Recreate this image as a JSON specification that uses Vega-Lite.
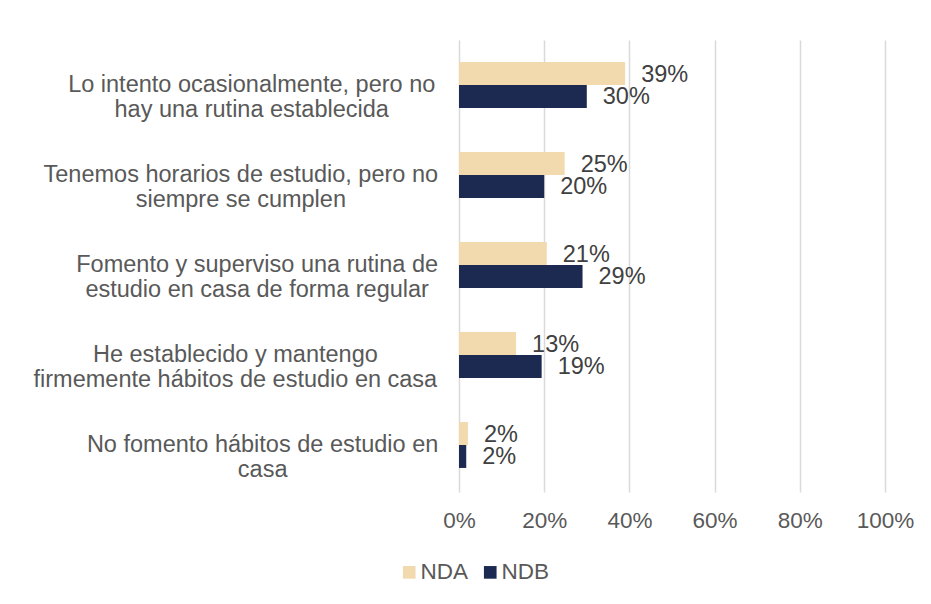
{
  "$schema": "https://vega.github.io/schema/vega-lite/v6.json",
  "autosize": {"type": "none"},
  "width": 426,
  "height": 450,
  "padding": {"left": 459, "top": 40, "right": 46, "bottom": 114},
  "background": "white",
  "config": {
    "view": {"stroke": null},
    "font": "Liberation Sans",
    "text": {"font": "Liberation Sans"}
  },
  "data": {
    "values": [
      {"cat": "Lo intento ocasionalmente, pero no|hay una rutina establecida", "serie": "NDA", "value": 0.39},
      {"cat": "Lo intento ocasionalmente, pero no|hay una rutina establecida", "serie": "NDB", "value": 0.30},
      {"cat": "Tenemos horarios de estudio, pero no|siempre se cumplen", "serie": "NDA", "value": 0.248},
      {"cat": "Tenemos horarios de estudio, pero no|siempre se cumplen", "serie": "NDB", "value": 0.20},
      {"cat": "Fomento y superviso una rutina de|estudio en casa de forma regular", "serie": "NDA", "value": 0.206},
      {"cat": "Fomento y superviso una rutina de|estudio en casa de forma regular", "serie": "NDB", "value": 0.29},
      {"cat": "He establecido y mantengo|firmemente hábitos de estudio en casa", "serie": "NDA", "value": 0.134},
      {"cat": "He establecido y mantengo|firmemente hábitos de estudio en casa", "serie": "NDB", "value": 0.194},
      {"cat": "No fomento hábitos de estudio en|casa", "serie": "NDA", "value": 0.021},
      {"cat": "No fomento hábitos de estudio en|casa", "serie": "NDB", "value": 0.017}
    ]
  },
  "encoding": {
    "y": {
      "field": "cat",
      "type": "nominal",
      "sort": null,
      "scale": {"paddingInner": 0.49, "paddingOuter": 0.245},
      "axis": null
    }
  },
  "layer": [
    {
      "mark": {"type": "bar"},
      "encoding": {
        "x": {
          "field": "value",
          "type": "quantitative",
          "scale": {"domain": [0, 1], "nice": false},
          "axis": {
            "title": null,
            "format": ".0%",
            "values": [0, 0.2, 0.4, 0.6, 0.8, 1],
            "domain": false,
            "ticks": true,
            "tickSize": 2,
            "tickColor": "#d9d9d9",
            "tickWidth": 1.5,
            "grid": true,
            "gridColor": "#d9d9d9",
            "gridWidth": 1.5,
            "labelPadding": 17,
            "labelFontSize": 22.5,
            "labelColor": "#595959",
            "labelFlush": false
          }
        },
        "yOffset": {
          "field": "serie",
          "type": "nominal",
          "sort": ["NDA", "NDB"],
          "scale": {"paddingInner": 0, "paddingOuter": 0}
        },
        "color": {
          "field": "serie",
          "type": "nominal",
          "scale": {"domain": ["NDA", "NDB"], "range": ["#F2DAAE", "#1C2951"]},
          "legend": {
            "title": null,
            "orient": "none",
            "direction": "horizontal",
            "legendX": -61,
            "legendY": 521,
            "padding": 0,
            "symbolType": "square",
            "symbolSize": 160,
            "symbolStrokeWidth": 0,
            "labelFontSize": 22.5,
            "labelColor": "#595959",
            "labelOffset": 0,
            "columnPadding": 10
          }
        }
      }
    },
    {
      "mark": {"type": "text", "align": "left", "baseline": "middle", "dx": 16, "dy": 1, "fontSize": 23.5, "color": "#404040"},
      "encoding": {
        "x": {"field": "value", "type": "quantitative"},
        "yOffset": {"field": "serie", "type": "nominal", "sort": ["NDA", "NDB"]},
        "text": {"field": "value", "type": "quantitative", "format": ".0%"}
      }
    },
    {
      "transform": [{"filter": "datum.serie == 'NDA'"}],
      "mark": {
        "type": "text",
        "align": "center",
        "baseline": "middle",
        "fontSize": 23.5,
        "lineHeight": 25,
        "lineBreak": "|",
        "color": "#595959",
        "dx": {"expr": "-5.45*max(length(split(datum.cat,'|')[0]), length(split(datum.cat,'|')[1]))"}
      },
      "encoding": {
        "x": {"datum": -0.0516, "type": "quantitative"},
        "text": {"field": "cat", "type": "nominal"}
      }
    }
  ]
}
